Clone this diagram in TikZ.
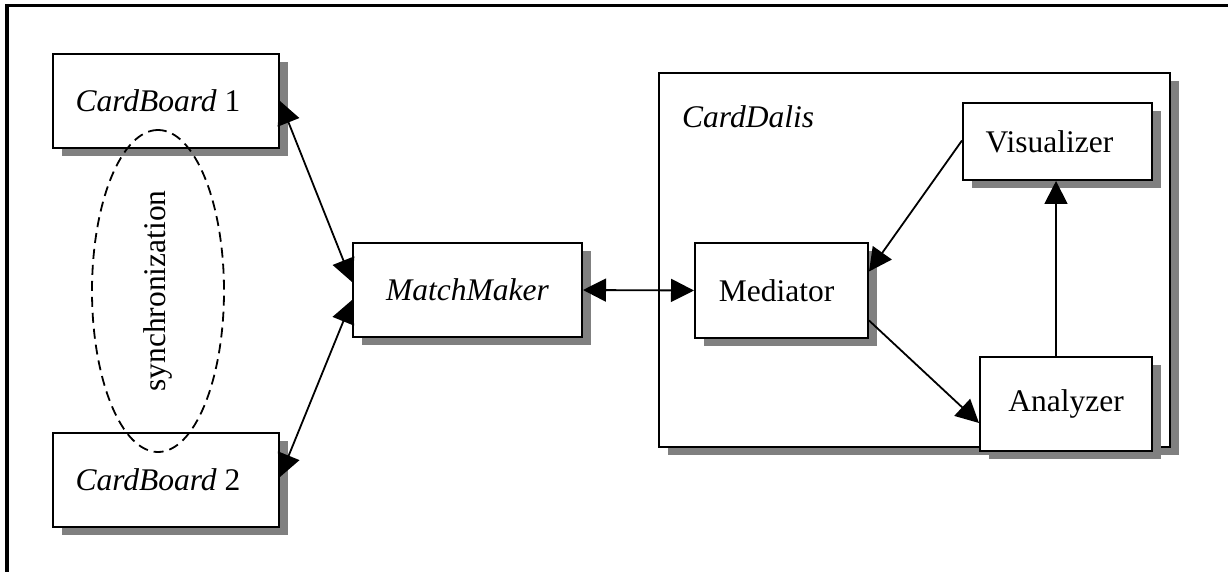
\documentclass[tikz,border=0pt]{standalone}
\usepackage{fontspec}
\setmainfont{Liberation Serif}
\usetikzlibrary{shadows,arrows.meta,shapes.geometric}
\definecolor{shadowgray}{RGB}{128,128,128}
\tikzset{
  base/.style={font=\fontsize{31.5}{36}\selectfont},
  sbox/.style={base, draw, line width=2pt, fill=white, inner sep=0pt,
    general shadow={fill=shadowgray, shadow xshift=8.5pt, shadow yshift=-8pt}},
  arr/.style={line width=1.8pt, -{Triangle[length=23pt,width=23pt]}},
  darr/.style={line width=1.8pt, {Triangle[length=23pt,width=23pt]}-{Triangle[length=23pt,width=23pt]}},
}
\begin{document}
\begin{tikzpicture}[x=1pt,y=-1pt]
\useasboundingbox (0,0) rectangle (1228,572);
% frame
\draw[line width=3.5pt] (7,572) -- (7,5.5) -- (1228,5.5);
% CardDalis container
\node[sbox, minimum width=511pt, minimum height=374pt] (dalis) at (914.5,260) {};
\node[base, anchor=base west, inner sep=0pt] (dalislabel) at (682,128) {\textit{CardDalis}};
% boxes
\node[sbox, minimum width=226pt, minimum height=94pt] (cb1) at (166,101) {\textit{CardBoard} 1\hspace*{16pt}};
\node[sbox, minimum width=226pt, minimum height=94pt] (cb2) at (166,480) {\textit{CardBoard} 2\hspace*{16pt}};
\node[sbox, minimum width=229pt, minimum height=94pt] (mm) at (467.5,290) {\textit{MatchMaker}};
\node[sbox, minimum width=173pt, minimum height=95pt] (med) at (781.5,290.5) {Mediator\hspace*{10pt}};
\node[sbox, minimum width=189pt, minimum height=77pt] (vis) at (1057.5,141.5) {Visualizer\hspace*{16pt}};
\node[sbox, minimum width=172pt, minimum height=94pt] (ana) at (1066,404) {Analyzer};
% synchronization ellipse
\node[base, ellipse, draw, dash pattern=on 10pt off 6pt, line width=1.8pt,
  rotate=90, minimum width=322pt, minimum height=132pt, inner sep=0pt] (sync) at (158,291) {synchronization};
% connectors
\draw[darr] (cb1.east) -- ([yshift=8pt]mm.west);
\draw[darr] ([yshift=3pt]cb2.east) -- ([yshift=-10pt]mm.west);
\draw[darr] (mm.east) -- (med.west);
\draw[arr] ([yshift=1pt]vis.west) -- ([yshift=19pt]med.east);
\draw[arr] ([yshift=-30pt]med.east) -- ([yshift=-19pt]ana.west);
\draw[arr] ([xshift=-10pt]ana.north) -- ([xshift=-10pt]ana.north |- vis.south);
\end{tikzpicture}
\end{document}
